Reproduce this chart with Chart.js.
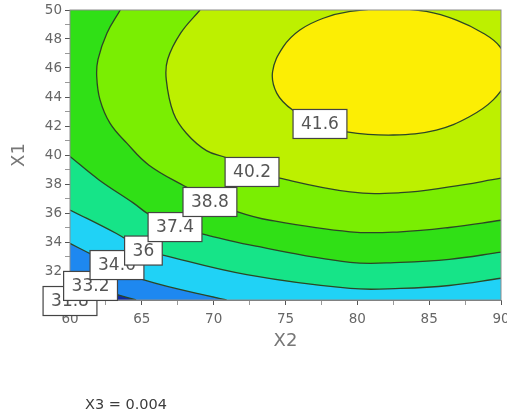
<!DOCTYPE html>
<html>
<head>
<meta charset="utf-8">
<script src="https://cdn.jsdelivr.net/npm/chart.js@4.4.1/dist/chart.umd.min.js"></script>
<style>
    html, body { margin: 0; padding: 0; background: #fff; }
    #wrap { position: relative; width: 507px; height: 417px; }
    #note { position: absolute; left: 85px; top: 396px; font: 14.5px "DejaVu Sans", sans-serif; line-height: 17px; color: #3c3c3c; }
</style>
</head>
<body>
<div id="wrap">
    <canvas id="contour" width="507" height="417"></canvas>
    <div id="note">X3 = 0.004</div>
</div>
<script>
// axis ranges
const X2_MIN = 60, X2_MAX = 90;
const X1_MIN = 30, X1_MAX = 50;

// contour levels, highest first
const levels = [41.6, 40.2, 38.8, 37.4, 36, 34.6, 33.2, 31.8];
const bandColors = ['#fcee04', '#bdf000', '#7aee02', '#30e016', '#16e488', '#20d2f6', '#1e88f0', '#0c2aa8'];
const lowColor = '#00137e';

// contour lines, [x2, x1]
const line416 = [[90.9, 45.7], [89.46, 43.8], [87.8, 42.64], [85.5, 41.72], [82.5, 41.38], [79.26, 41.6],
    [77.4, 42.14], [75.5, 43.1], [74.4, 44.25], [74.1, 45.74], [74.85, 47.47], [76.0, 48.62], [77.63, 49.43],
    [79.5, 49.9], [82.2, 50.1], [84.8, 49.9], [86.9, 49.3], [88.76, 48.4], [89.9, 47.5], [90.9, 45.7]];
const line402 = [[69.05, 50], [67.7, 48.4], [66.8, 46.6], [66.7, 45.2], [67.2, 42.9], [68.1, 41.5], [69.5, 40.3],
    [70.9, 39.8], [72.7, 39.0], [74.6, 38.4], [79.5, 37.45], [83, 37.4], [86.4, 37.8], [90, 38.4]];
const line388 = [[63.5, 50], [62.57, 48.4], [61.95, 46.6], [61.86, 45.4], [62.09, 43.8], [62.78, 42.2], [63.97, 40.8],
    [65.5, 39.3], [68.07, 37.8], [69.74, 36.9], [71.62, 36.1], [73.92, 35.5], [79.5, 34.7], [83, 34.7], [86.4, 35.0], [90, 35.5]];
const line374 = [[60, 39.9], [62.0, 38.3], [64.4, 36.7], [65.5, 35.9], [67.31, 35.03], [69.26, 34.55], [72.5, 33.8],
    [79.5, 32.6], [83, 32.6], [86.4, 32.8], [90, 33.3]];
const line36 = [[60, 36.21], [63.2, 34.6], [65.11, 33.5], [66.47, 33.1], [72.3, 31.75], [79.5, 30.8], [83, 30.8],
    [86.4, 31.0], [90, 31.5]];
const line346 = [[60, 33.9], [61.6, 33.1], [63.27, 32.35], [65.08, 31.4], [70.9, 30.0]];
const line332 = [[60, 31.85], [61.43, 30.97], [63.0, 30.45], [64.6, 30.0]];
const line318 = [[60, 30.3], [60.7, 30.0]];
const contourLines = [line416, line402, line388, line374, line36, line346, line332, line318];

// how each "higher than level" region is closed outside the plot
const closeType = ['loop', 'topRight', 'topRight', 'top', 'top', 'bottom', 'bottom', 'bottom'];

// in-plot labels
const labelText = ['31.8', '33.2', '34.6', '36', '37.4', '38.8', '40.2', '41.6'];
const labelX2 = [60.0, 61.43, 63.27, 65.11, 67.31, 69.74, 72.67, 77.4];
const labelX1 = [29.93, 30.97, 32.41, 33.41, 35.03, 36.76, 38.83, 42.14];

const PAD = 3;
const TENSION = 0.4;

function closeRegion(pts, type) {
    const first = pts[0], last = pts[pts.length - 1];
    if (type === 'loop') return pts;
    if (type === 'topRight') {
        return pts.concat([[X2_MAX + PAD, last[1] + 0.5], [X2_MAX + PAD, X1_MAX + PAD], [first[0] + 0.5, X1_MAX + PAD]]);
    }
    const left = [[X2_MIN - PAD, X1_MAX + PAD], [X2_MIN - PAD, first[1] + 0.4]];
    if (type === 'top') {
        return pts.concat([[X2_MAX + PAD, last[1] + 0.5], [X2_MAX + PAD, X1_MAX + PAD]], left);
    }
    return pts.concat([[last[0] + 1.5, X1_MIN - 0.5], [X2_MAX + PAD, X1_MIN - PAD], [X2_MAX + PAD, X1_MAX + PAD]], left);
}

const toXY = pts => pts.map(p => ({x: p[0], y: p[1]}));

const fillSets = levels.map((lv, i) => ({
    label: 'band ' + lv,
    data: toXY(closeRegion(contourLines[i], closeType[i])),
    backgroundColor: bandColors[i],
    borderColor: 'transparent',
    borderWidth: 0,
    fill: 'shape',
    pointRadius: 0,
    tension: TENSION
}));

const lineSets = levels.map((lv, i) => ({
    label: 'level ' + lv,
    data: toXY(contourLines[i]),
    borderColor: '#2c4626',
    borderWidth: 1.3,
    fill: false,
    pointRadius: 0,
    tension: TENSION
}));

const plotFrame = {
    id: 'plotFrame',
    beforeDraw(chart) {
        const a = chart.chartArea;
        const ctx = chart.ctx;
        ctx.save();
        ctx.fillStyle = lowColor;
        ctx.fillRect(a.left, a.top, a.right - a.left, a.bottom - a.top);
        ctx.restore();
    },
    afterDatasetsDraw(chart) {
        const a = chart.chartArea;
        const ctx = chart.ctx;
        ctx.save();
        ctx.strokeStyle = '#8c8c8c';
        ctx.lineWidth = 1;
        ctx.strokeRect(a.left, a.top, a.right - a.left, a.bottom - a.top);
        ctx.restore();
    }
};

const labelBoxes = {
    id: 'labelBoxes',
    afterDraw(chart) {
        const {ctx, scales: {x, y}} = chart;
        ctx.save();
        ctx.font = '17px "DejaVu Sans", sans-serif';
        ctx.textAlign = 'center';
        ctx.textBaseline = 'middle';
        labelText.forEach((t, i) => {
            const cx = x.getPixelForValue(labelX2[i]);
            const cy = y.getPixelForValue(labelX1[i]);
            const w = ctx.measureText(t).width + 16;
            const h = 29;
            ctx.fillStyle = '#ffffff';
            ctx.fillRect(cx - w / 2, cy - h / 2, w, h);
            ctx.strokeStyle = '#444';
            ctx.lineWidth = 1.2;
            ctx.strokeRect(cx - w / 2, cy - h / 2, w, h);
            ctx.fillStyle = '#555';
            ctx.fillText(t, cx, cy + 1);
        });
        ctx.restore();
    }
};

const tickFont = {family: '"DejaVu Sans", sans-serif', size: 13.5};
const titleFont = {family: '"DejaVu Sans", sans-serif', size: 18};

new Chart(document.getElementById('contour'), {
    type: 'line',
    data: {datasets: fillSets.concat(lineSets)},
    options: {
        responsive: false,
        animation: false,
        devicePixelRatio: 1,
        events: [],
        layout: {padding: {left: 0, right: 6, top: 10, bottom: 60}},
        elements: {line: {capBezierPoints: false}},
        plugins: {
            legend: {display: false},
            tooltip: {enabled: false},
            filler: {drawTime: 'beforeDatasetsDraw'}
        },
        scales: {
            x: {
                type: 'linear',
                min: X2_MIN,
                max: X2_MAX,
                afterFit: s => { s.height = 57; s.paddingLeft = 0; s.paddingRight = 0; },
                ticks: {
                    stepSize: 2.5,
                    autoSkip: false,
                    maxRotation: 0,
                    padding: 6,
                    color: '#666',
                    font: tickFont,
                    callback: v => (v % 5 === 0 ? v : '')
                },
                grid: {
                    drawOnChartArea: false,
                    tickLength: 5,
                    tickColor: c => (c.tick && c.tick.value % 5 ? '#999' : '#555')
                },
                border: {color: '#777'},
                title: {display: true, text: 'X2', color: '#777', font: titleFont, padding: {top: 0, bottom: 5}}
            },
            y: {
                type: 'linear',
                min: X1_MIN,
                max: X1_MAX,
                afterFit: s => { s.width = 70; s.paddingTop = 0; s.paddingBottom = 0; },
                ticks: {
                    stepSize: 1,
                    autoSkip: false,
                    padding: 3,
                    color: '#666',
                    font: tickFont,
                    callback: v => (v % 2 === 0 ? v : '')
                },
                grid: {
                    drawOnChartArea: false,
                    tickLength: 5,
                    tickColor: c => (c.tick && c.tick.value % 2 ? '#999' : '#555')
                },
                border: {color: '#777'},
                title: {display: true, text: 'X1', color: '#777', font: titleFont, padding: {top: 9, bottom: 0}}
            }
        }
    },
    plugins: [plotFrame, labelBoxes]
});
</script>
</body>
</html>
